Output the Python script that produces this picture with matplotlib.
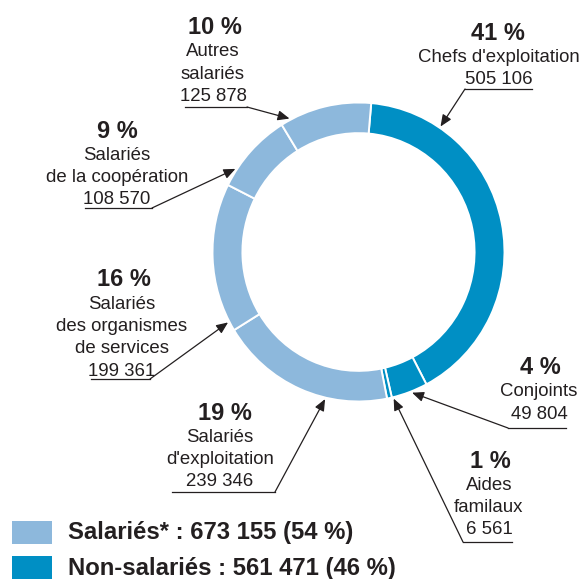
import matplotlib
matplotlib.use('Agg')
import numpy as np
import matplotlib.pyplot as plt
from matplotlib.lines import Line2D
from matplotlib.patches import Rectangle

plt.rcParams['font.family'] = ['Liberation Sans', 'DejaVu Sans']

# données (sens horaire depuis le haut)
categories = ["Chefs d'exploitation", "Conjoints", "Aides familaux",
              "Salariés d'exploitation", "Salariés des organismes de services",
              "Salariés de la coopération", "Autres salariés"]
values = [505106, 49804, 6561, 239346, 199361, 108570, 125878]
groups = ['non', 'non', 'non', 'sal', 'sal', 'sal', 'sal']
label_lines = [["Chefs d'exploitation"], ["Conjoints"], ["Aides", "familaux"],
               ["Salariés", "d'exploitation"],
               ["Salariés", "des organismes", "de services"],
               ["Salariés", "de la coopération"], ["Autres", "salariés"]]
legend_labels = ['Salariés* : 673 155 (54 %)', 'Non-salariés : 561 471 (46 %)']

# mise en page (pixels de l'image)
W, H = 586, 579
cx, cy, rx, ry = 358.5, 252, 146, 149.5
pct_pos = [(498, 33), (540, 368), (490, 461), (225, 413), (124, 280), (117, 131), (215, 28)]
line_x = [499, 539, 489, 220, 122, 117, 213]
underlines = [(465, 532, 89), (508, 566, 428), (463, 512, 542), (172, 275, 492),
              (91, 150, 379), (85, 152, 208), (185, 247, 107)]
leader_start = [(465, 89), (508, 428), (463, 542), (275, 492), (150, 379), (152, 208), (247, 107)]
tip_angles = [56.2, 291.3, 283.8, 256.9, 207.8, 146.6, 117.9]

dark = '#008fc4'
light = '#8db8dc'
txt = '#231f20'
colors = [dark if g == 'non' else light for g in groups]


def fpx(x, y):
    return (x / W, 1 - y / H)


fig = plt.figure(figsize=(5.86, 5.79), dpi=100)
ax = fig.add_axes([0, 0, 1, 1])

ax.pie(values, colors=colors, startangle=85, counterclock=False, radius=1,
       wedgeprops=dict(width=0.205, edgecolor='white', linewidth=1.4))
ax.set_aspect('auto')
ax.set_xlim(-cx / rx, (W - cx) / rx)
ax.set_ylim(-(H - cy) / ry, cy / ry)
ax.axis('off')

total = sum(values)
for i, v in enumerate(values):
    # pourcentage en gras
    px, py = pct_pos[i]
    fig.text(*fpx(px, py), f"{round(100 * v / total):.0f} %", ha='center', va='center',
             fontsize=17, fontweight='bold', color=txt)
    lines = label_lines[i] + [f"{v:,}".replace(',', ' ')]
    for k, s in enumerate(lines):
        fig.text(*fpx(line_x[i], py + 24 + 22.4 * k), s, ha='center', va='center',
                 fontsize=13.4, color=txt)
    # soulignement + flèche
    x1, x2, yl = underlines[i]
    fig.add_artist(Line2D([x1 / W, x2 / W], [1 - yl / H] * 2, transform=fig.transFigure,
                          color=txt, lw=0.9))
    a = np.radians(tip_angles[i])
    ax.annotate('', xy=(1.01 * np.cos(a), 1.01 * np.sin(a)), xycoords='data',
                xytext=fpx(*leader_start[i]), textcoords='figure fraction',
                arrowprops=dict(arrowstyle='-|>,head_length=0.7,head_width=0.3',
                                color=txt, lw=0.9, shrinkA=0, shrinkB=0))

# légende
for j, (lab, col) in enumerate(zip(legend_labels, [light, dark])):
    top = 521 + 35 * j
    fig.add_artist(Rectangle(fpx(12, top + 23), 40 / W, 23 / H,
                             transform=fig.transFigure, color=col, lw=0))
    fig.text(*fpx(68, top + 12), lab, ha='left', va='center', fontsize=17.2,
             fontweight='bold', color=txt)

fig.savefig('out.png', dpi=100)
